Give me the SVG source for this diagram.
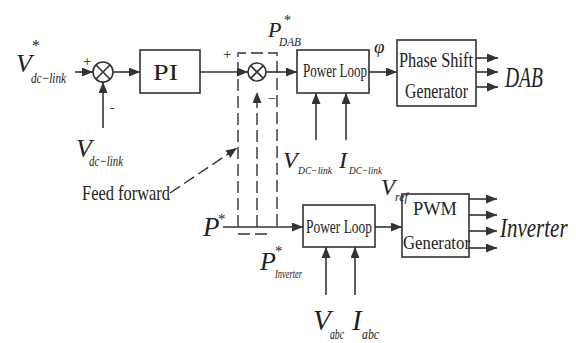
<svg xmlns="http://www.w3.org/2000/svg" width="576" height="343" viewBox="0 0 576 343">
<style>
.bx{fill:#fff;stroke:#333;stroke-width:1.6}
.ln{fill:none;stroke:#333;stroke-width:1.6}
.ds{fill:none;stroke:#333;stroke-width:1.4;stroke-dasharray:12 5}
.t{font-family:"Liberation Serif","Times New Roman",serif;fill:#222}
.i{font-family:"Liberation Serif","Times New Roman",serif;font-style:italic;fill:#222}
.n{font-style:normal}
</style>
<defs>
<marker id="ah" markerUnits="userSpaceOnUse" markerWidth="11" markerHeight="9" refX="11" refY="4.5" orient="auto">
<path d="M0,0 L11,4.5 L0,9 z" fill="#333"/>
</marker>
</defs>
<rect width="576" height="343" fill="#fff"/>

<g id="connectors">
<line class="ln" x1="75" y1="72" x2="93" y2="72" marker-end="url(#ah)"/>
<line class="ln" x1="103" y1="128" x2="103" y2="82" marker-end="url(#ah)"/>
<line class="ln" x1="113" y1="72" x2="140" y2="72" marker-end="url(#ah)"/>
<line class="ln" x1="200" y1="72" x2="248" y2="72" marker-end="url(#ah)"/>
<line class="ln" x1="266" y1="72" x2="297" y2="72" marker-end="url(#ah)"/>
<line class="ln" x1="369" y1="72" x2="397" y2="72" marker-end="url(#ah)"/>
<line class="ln" x1="476" y1="58" x2="498" y2="58" marker-end="url(#ah)"/>
<line class="ln" x1="476" y1="72" x2="498" y2="72" marker-end="url(#ah)"/>
<line class="ln" x1="476" y1="87" x2="498" y2="87" marker-end="url(#ah)"/>
<line class="ln" x1="316" y1="140" x2="316" y2="93" marker-end="url(#ah)"/>
<line class="ln" x1="346" y1="140" x2="346" y2="93" marker-end="url(#ah)"/>
<line class="ln" x1="223" y1="227" x2="303" y2="227" marker-end="url(#ah)"/>
<line class="ln" x1="375" y1="227" x2="402" y2="227" marker-end="url(#ah)"/>
<line class="ln" x1="469" y1="199" x2="497" y2="199" marker-end="url(#ah)"/>
<line class="ln" x1="469" y1="215" x2="497" y2="215" marker-end="url(#ah)"/>
<line class="ln" x1="469" y1="231" x2="497" y2="231" marker-end="url(#ah)"/>
<line class="ln" x1="469" y1="248" x2="497" y2="248" marker-end="url(#ah)"/>
<line class="ln" x1="326" y1="295" x2="326" y2="247" marker-end="url(#ah)"/>
<line class="ln" x1="355" y1="295" x2="355" y2="247" marker-end="url(#ah)"/>
<line class="ds" x1="257" y1="227" x2="257" y2="92" marker-end="url(#ah)"/>
<line class="ds" x1="170" y1="193" x2="237" y2="148" stroke-dasharray="8 5" marker-end="url(#ah)"/>
<path class="ds" d="M238,227 V53 H277 V227"/>
<line class="ds" x1="238" y1="234" x2="272" y2="234" stroke-dasharray="13 7"/>
</g>

<g id="sum1">
<circle class="bx" cx="103" cy="72" r="10"/>
<path class="ln" d="M96,65 L110,79 M110,65 L96,79"/>
<text class="t" x="83" y="66" font-size="15">+</text>
<text class="t" x="110" y="112" font-size="13">-</text>
</g>

<g id="pi">
<rect class="bx" x="140" y="50" width="60" height="43"/>
<text class="t" x="153" y="80" font-size="23" textLength="25" lengthAdjust="spacingAndGlyphs">PI</text>
</g>

<g id="sum2">
<circle class="bx" cx="257" cy="72" r="9"/>
<path class="ln" d="M250.6,65.6 L263.4,78.4 M263.4,65.6 L250.6,78.4"/>
<text class="t" x="223" y="59" font-size="15">+</text>
<text class="t" x="268" y="103" font-size="14">−</text>
</g>

<g id="powerloop1">
<rect class="bx" x="297" y="50" width="72" height="43"/>
<text class="t" x="303" y="77" font-size="18" textLength="64" lengthAdjust="spacingAndGlyphs">Power Loop</text>
</g>

<g id="phaseshift">
<rect class="bx" x="397" y="40" width="79" height="66"/>
<text class="t" x="399" y="67" font-size="20" textLength="74" lengthAdjust="spacingAndGlyphs">Phase Shift</text>
<text class="t" x="405" y="98" font-size="20" textLength="63" lengthAdjust="spacingAndGlyphs">Generator</text>
</g>

<g id="powerloop2">
<rect class="bx" x="303" y="205" width="72" height="42"/>
<text class="t" x="306" y="233" font-size="18" textLength="66" lengthAdjust="spacingAndGlyphs">Power Loop</text>
</g>

<g id="pwm">
<rect class="bx" x="402" y="194" width="67" height="63"/>
<text class="t" x="413" y="215" font-size="19" textLength="44" lengthAdjust="spacingAndGlyphs">PWM</text>
<text class="t" x="403" y="249" font-size="19" textLength="67" lengthAdjust="spacingAndGlyphs">Generator</text>
</g>

<g id="labels">
<text class="i" x="16" y="72" font-size="26">V<tspan class="n" x="32" y="51" font-size="16">*</tspan><tspan x="31" y="83" font-size="15" textLength="35" lengthAdjust="spacingAndGlyphs">dc−link</tspan></text>

<text class="i" x="76" y="157" font-size="26">V<tspan x="89" y="166" font-size="15" textLength="34" lengthAdjust="spacingAndGlyphs">dc−link</tspan></text>

<text class="i" x="268" y="37" font-size="22">P<tspan class="n" x="284" y="25" font-size="14">*</tspan><tspan x="279" y="46" font-size="13" textLength="22" lengthAdjust="spacingAndGlyphs">DAB</tspan></text>

<text class="i" x="374" y="53" font-size="19">φ</text>

<text class="i" x="505" y="87" font-size="29" textLength="38" lengthAdjust="spacingAndGlyphs">DAB</text>

<text class="i" x="283" y="168" font-size="24">V<tspan x="298" y="174" font-size="11" textLength="34" lengthAdjust="spacingAndGlyphs">DC−link</tspan></text>
<text class="i" x="339" y="168" font-size="24">I<tspan x="349" y="174" font-size="11" textLength="33" lengthAdjust="spacingAndGlyphs">DC−link</tspan></text>

<text class="t" x="82" y="200" font-size="21" textLength="88" lengthAdjust="spacingAndGlyphs">Feed forward</text>

<text class="i" x="203" y="236" font-size="27">P<tspan class="n" x="218" y="224" font-size="15">*</tspan></text>

<text class="i" x="260" y="270" font-size="26">P<tspan class="n" x="275" y="256" font-size="15">*</tspan><tspan x="275" y="278" font-size="13" textLength="27" lengthAdjust="spacingAndGlyphs">Inverter</tspan></text>

<text class="i" x="381" y="195" font-size="23">V<tspan x="395" y="201" font-size="12">ref</tspan></text>

<text class="i" font-size="28" transform="translate(500,237) scale(0.75,1)">Inverter</text>

<text class="i" x="313" y="330" font-size="29">V<tspan x="330" y="339" font-size="15" textLength="14" lengthAdjust="spacingAndGlyphs">abc</tspan></text>
<text class="i" x="352" y="330" font-size="29">I<tspan x="362" y="339" font-size="15" textLength="17" lengthAdjust="spacingAndGlyphs">abc</tspan></text>
</g>
</svg>
